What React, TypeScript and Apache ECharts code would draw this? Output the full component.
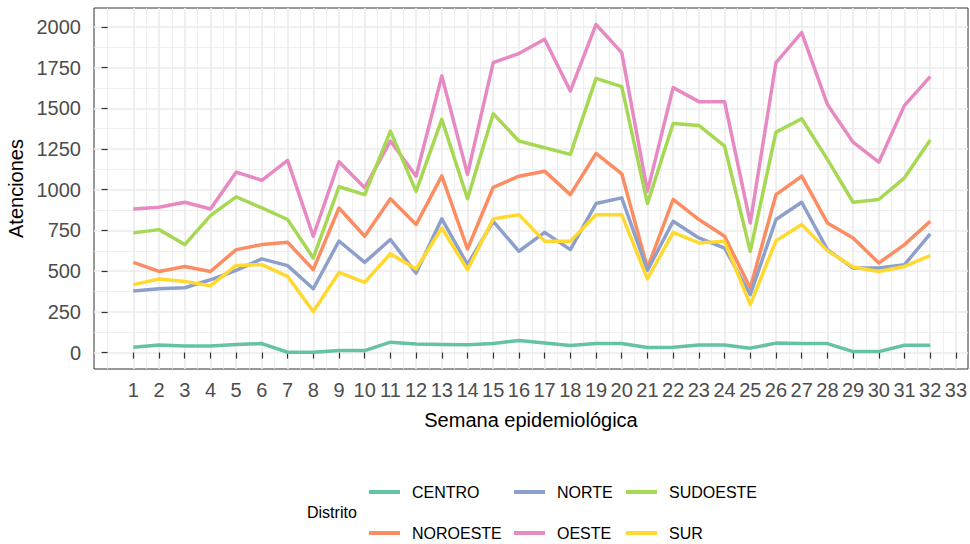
import React, { useEffect, useRef } from 'react';
import * as echarts from 'echarts';

const weeks = [1, 2, 3, 4, 5, 6, 7, 8, 9, 10, 11, 12, 13, 14, 15, 16, 17, 18, 19, 20, 21, 22, 23, 24, 25, 26, 27, 28, 29, 30, 31, 32];
const weekTicks = [1, 2, 3, 4, 5, 6, 7, 8, 9, 10, 11, 12, 13, 14, 15, 16, 17, 18, 19, 20, 21, 22, 23, 24, 25, 26, 27, 28, 29, 30, 31, 32, 33];
const yTicks = [0, 250, 500, 750, 1000, 1250, 1500, 1750, 2000];

const districts = ['CENTRO', 'NOROESTE', 'NORTE', 'OESTE', 'SUDOESTE', 'SUR'];

const centro = [33, 47, 41, 41, 49, 55, 2, 2, 12, 12, 64, 52, 50, 48, 55, 74, 58, 43, 56, 55, 31, 33, 47, 46, 27, 58, 55, 55, 6, 6, 45, 45];
const noroeste = [554, 498, 529, 498, 632, 663, 677, 509, 888, 714, 944, 786, 1085, 636, 1015, 1083, 1114, 970, 1223, 1098, 520, 940, 817, 714, 396, 970, 1083, 796, 704, 550, 663, 806];
const norte = [378, 392, 398, 447, 505, 575, 534, 392, 685, 554, 694, 488, 821, 540, 806, 622, 738, 632, 915, 950, 505, 806, 704, 642, 355, 817, 923, 632, 519, 519, 540, 729];
const oeste = [882, 892, 923, 882, 1108, 1058, 1180, 714, 1172, 1012, 1299, 1083, 1699, 1094, 1781, 1836, 1924, 1606, 2015, 1842, 990, 1627, 1541, 1541, 796, 1781, 1965, 1524, 1292, 1169, 1518, 1695];
const sudoeste = [735, 755, 663, 841, 956, 888, 817, 581, 1018, 970, 1360, 990, 1432, 945, 1467, 1299, 1258, 1217, 1684, 1633, 915, 1407, 1395, 1268, 622, 1354, 1436, 1186, 923, 940, 1073, 1305];
const sur = [417, 452, 437, 410, 535, 540, 468, 252, 492, 431, 607, 513, 765, 509, 821, 847, 683, 683, 847, 847, 452, 738, 673, 683, 294, 687, 786, 626, 525, 498, 529, 595];

const seriesValues = [centro, noroeste, norte, oeste, sudoeste, sur];
const colors = ['#66C2A5', '#FC8D62', '#8DA0CB', '#E78AC3', '#A6D854', '#FFD92F'];

const FONT = 'Liberation Sans, Arial, sans-serif';

export default function App() {
  const ref = useRef<HTMLDivElement>(null);

  useEffect(() => {
    if (!ref.current) return;
    const chart = echarts.init(ref.current, undefined, { renderer: 'svg' });

    const xMinor = [0, ...weekTicks.slice(0, -1).map((w) => w + 0.5)];
    const yMinor = yTicks.slice(0, -1).map((v) => v + 125);

    const legendPos = [
      { left: 369, top: 482 },
      { left: 369, top: 523 },
      { left: 514, top: 482 },
      { left: 514, top: 523 },
      { left: 626, top: 482 },
      { left: 626, top: 523 },
    ];

    const option: any = {
      animation: false,
      backgroundColor: '#ffffff',
      title: {
        text: 'Distrito',
        left: 307,
        top: 504,
        padding: 0,
        textStyle: { fontFamily: FONT, fontSize: 16, fontWeight: 'normal', color: '#000000' },
      },
      legend: districts.map((d, i) => ({
        data: [d],
        left: legendPos[i].left,
        top: legendPos[i].top,
        padding: 0,
        icon: 'rect',
        itemWidth: 31,
        itemHeight: 4,
        selectedMode: false,
        textStyle: { fontFamily: FONT, fontSize: 16, color: '#000000', padding: [0, 0, 0, 7], lineHeight: 20 },
      })),
      grid: {
        left: 94,
        top: 8,
        width: 874,
        height: 361,
        containLabel: false,
        outerBoundsMode: 'none',
        show: true,
        borderColor: '#333333',
        borderWidth: 1,
        backgroundColor: '#ffffff',
      },
      xAxis: [
        {
          type: 'value',
          min: -0.53,
          max: 33.47,
          axisLine: { show: false },
          axisTick: { show: true, customValues: weekTicks, length: 6, lineStyle: { color: '#333333', width: 1.2 } },
          axisLabel: { customValues: weekTicks, formatter: (v: number) => String(v), fontFamily: FONT, fontSize: 20, color: '#4D4D4D', margin: 11 },
          splitLine: { show: true, lineStyle: { color: '#EBEBEB', width: 1.6 } },
          name: 'Semana epidemiológica',
          nameLocation: 'middle',
          nameGap: 41,
          nameTextStyle: { fontFamily: FONT, fontSize: 20, color: '#000000' },
        },
        {
          type: 'value',
          min: -0.53,
          max: 33.47,
          position: 'bottom',
          axisLine: { show: false },
          axisTick: { show: false, customValues: xMinor },
          axisLabel: { show: false, customValues: xMinor },
          splitLine: { show: true, lineStyle: { color: '#EBEBEB', width: 0.8 } },
        },
      ],
      yAxis: [
        {
          type: 'value',
          min: -101,
          max: 2116,
          axisLine: { show: false },
          axisTick: { show: true, customValues: yTicks, length: 6, lineStyle: { color: '#333333', width: 1.2 } },
          axisLabel: { customValues: yTicks, formatter: (v: number) => String(v), fontFamily: FONT, fontSize: 20, color: '#4D4D4D', margin: 13 },
          splitLine: { show: true, lineStyle: { color: '#EBEBEB', width: 1.6 } },
          name: 'Atenciones',
          nameLocation: 'middle',
          nameGap: 59,
          nameTextStyle: { fontFamily: FONT, fontSize: 20, color: '#000000' },
        },
        {
          type: 'value',
          min: -101,
          max: 2116,
          position: 'left',
          axisLine: { show: false },
          axisTick: { show: false, customValues: yMinor },
          axisLabel: { show: false, customValues: yMinor },
          splitLine: { show: true, lineStyle: { color: '#EBEBEB', width: 0.8 } },
        },
      ],
      series: districts.map((d, i) => ({
        name: d,
        type: 'line',
        xAxisIndex: 0,
        yAxisIndex: 0,
        data: weeks.map((w, j) => [w, seriesValues[i][j]]),
        showSymbol: false,
        symbol: 'none',
        silent: true,
        color: colors[i],
        itemStyle: { color: colors[i] },
        lineStyle: { color: colors[i], width: 3.5, join: 'round', cap: 'butt' },
        emphasis: { disabled: true },
      })),
    };

    chart.setOption(option);
    return () => chart.dispose();
  }, []);

  return (
    <div
      ref={ref}
      style={{ position: 'fixed', left: 0, top: 0, width: 970, height: 544, background: '#fff' }}
    />
  );
}
